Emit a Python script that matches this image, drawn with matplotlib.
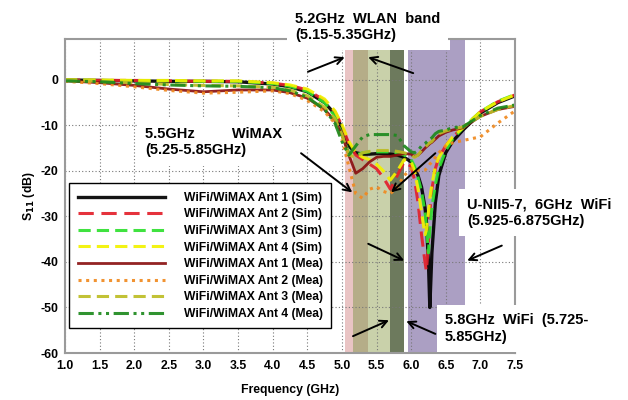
import matplotlib
matplotlib.use("Agg")
import matplotlib.pyplot as plt

plt.rcParams["font.family"] = ["Liberation Sans", "DejaVu Sans"]
plt.rcParams["font.weight"] = "bold"
plt.rcParams["axes.labelweight"] = "bold"
plt.rcParams["axes.unicode_minus"] = False

# frequency grid (GHz) shared by all traces
freq = [1.0, 1.5, 2.0, 2.5, 3.0, 3.5, 4.0, 4.25, 4.5, 4.75, 4.9, 5.0, 5.1, 5.2,
        5.3, 5.4, 5.5, 5.6, 5.7, 5.8, 5.9, 6.0, 6.05, 6.1, 6.15, 6.2, 6.22,
        6.25, 6.27, 6.3, 6.35, 6.4, 6.5, 6.6, 6.75, 7.0, 7.25, 7.5]

sim_ant1 = [0, -0.1, -0.2, -0.3, -0.3, -0.4, -0.9, -1.5, -2.6, -5.0, -7.5, -10.5,
            -14.5, -16.0, -16.3, -16.3, -16.2, -16.2, -16.3, -16.5, -17.0, -18.0,
            -19.5, -21.0, -23.5, -28.0, -31.0, -40.0, -50.0, -38.0, -27.0, -21.0,
            -16.0, -13.5, -11.0, -7.3, -5.0, -3.5]
sim_ant2 = [0, -0.1, -0.1, -0.2, -0.3, -0.3, -0.7, -1.2, -2.2, -4.5, -7.0, -10.0,
            -14.0, -16.5, -17.5, -18.5, -19.5, -21.5, -24.0, -21.0, -18.0, -19.0,
            -22.0, -27.0, -34.0, -40.0, -42.0, -36.0, -29.0, -24.0, -19.5, -17.0,
            -14.5, -12.5, -10.5, -7.0, -4.8, -3.3]
sim_ant3 = [0, -0.1, -0.2, -0.2, -0.3, -0.3, -0.8, -1.4, -2.5, -5.0, -8.0, -12.0,
            -16.0, -16.5, -16.0, -15.8, -15.8, -15.8, -15.8, -16.0, -16.5, -17.5,
            -19.0, -21.5, -24.5, -29.0, -32.0, -38.0, -33.0, -28.0, -23.0, -19.5,
            -15.5, -13.0, -10.5, -7.0, -4.7, -3.2]
sim_ant4 = [0, 0, -0.1, -0.1, -0.2, -0.2, -0.6, -1.1, -2.0, -4.2, -6.8, -9.8,
            -13.5, -16.0, -17.0, -17.5, -18.5, -20.0, -22.0, -20.0, -17.5, -18.0,
            -20.0, -24.0, -29.0, -34.0, -33.0, -29.0, -26.0, -23.0, -19.0, -17.0,
            -14.5, -12.5, -10.5, -7.0, -4.8, -3.3]
mea_ant1 = [-0.2, -0.6, -1.2, -2.0, -2.6, -2.2, -2.2, -2.8, -4.0, -6.5, -9.0, -12.0,
            -16.5, -20.5, -19.5, -18.0, -17.0, -16.8, -16.8, -16.5, -16.2, -16.3,
            -16.8, -16.5, -15.8, -15.0, -14.7, -14.3, -14.0, -13.7, -13.0, -12.3,
            -11.5, -11.0, -10.5, -8.0, -6.5, -5.8]
mea_ant2 = [-0.3, -0.8, -1.5, -2.3, -2.9, -2.7, -2.4, -3.0, -4.5, -7.0, -9.5, -13.0,
            -19.0, -25.0, -26.0, -24.0, -23.5, -24.5, -25.0, -23.5, -21.0, -19.5,
            -19.5, -19.8, -20.0, -19.8, -19.5, -19.0, -18.5, -18.0, -17.0, -16.0,
            -14.5, -13.8, -13.3, -12.5, -9.5, -6.8]
mea_ant3 = [-0.1, -0.3, -0.6, -1.0, -1.2, -1.3, -1.6, -2.2, -3.5, -6.0, -8.5, -12.0,
            -16.5, -17.0, -16.0, -15.7, -15.5, -15.5, -15.5, -15.7, -16.0, -16.5,
            -17.0, -16.5, -15.5, -14.8, -14.5, -14.0, -13.8, -13.5, -12.5, -11.8,
            -11.2, -10.8, -10.3, -8.0, -6.5, -5.6]
mea_ant4 = [-0.2, -0.4, -0.8, -1.1, -1.3, -1.4, -1.7, -2.4, -3.8, -6.5, -9.5, -13.5,
            -16.5, -14.5, -12.5, -12.0, -12.0, -12.0, -12.0, -12.2, -14.5, -15.8,
            -16.0, -15.5, -14.5, -14.0, -13.7, -13.3, -13.0, -12.7, -11.8, -11.3,
            -11.0, -10.5, -10.3, -7.8, -6.2, -5.5]

labels = ["WiFi/WiMAX Ant 1 (Sim)", "WiFi/WiMAX Ant 2 (Sim)",
          "WiFi/WiMAX Ant 3 (Sim)", "WiFi/WiMAX Ant 4 (Sim)",
          "WiFi/WiMAX Ant 1 (Mea)", "WiFi/WiMAX Ant 2 (Mea)",
          "WiFi/WiMAX Ant 3 (Mea)", "WiFi/WiMAX Ant 4 (Mea)"]

# shaded frequency bands (GHz)
band_edges = [(5.05, 5.16), (5.16, 5.37), (5.37, 5.70), (5.70, 5.90), (5.95, 6.78)]
band_colors = ["#e9c4c4", "#b5ad88", "#c9d1aa", "#6d7a5d", "#ab9fc3"]

fig = plt.figure(figsize=(6.28, 4.0), dpi=100)
ax = fig.add_axes([0.1035, 0.1175, 0.7165, 0.785])

for (lo, hi), c in zip(band_edges, band_colors):
    ax.axvspan(lo, hi, ymin=0, ymax=0.966, color=c, lw=0, zorder=1)
# purple band pokes up to the frame top near its right edge
ax.axvspan(6.56, band_edges[-1][1], ymin=0.9, ymax=1, color=band_colors[-1], lw=0, zorder=1)

styles = [
    (sim_ant1, "black", "-", 2.4),
    (sim_ant2, "#e3202b", (0, (5, 2.5)), 2.2),
    (sim_ant3, "#2fe02f", (0, (4, 2)), 2.2),
    (sim_ant4, "#f2f200", (0, (4, 2)), 2.2),
    (mea_ant1, "#8a1010", "-", 2.0),
    (mea_ant2, "#f08a20", (0, (1, 1.5)), 2.2),
    (mea_ant3, "#bdbd25", (0, (4, 2)), 2.2),
    (mea_ant4, "#1e8a1e", (0, (5, 1.5, 1, 1.5, 1, 1.5)), 2.2),
]
for (vals, c, ls, lw), lab in zip(styles, labels):
    ax.plot(freq, vals, color=c, ls=ls, lw=lw, label=lab, zorder=3, alpha=0.92)

ax.set_xlim(1.0, 7.5)
ax.set_ylim(-60, 9)
ax.set_xticks([1.0, 1.5, 2.0, 2.5, 3.0, 3.5, 4.0, 4.5, 5.0, 5.5, 6.0, 6.5, 7.0, 7.5])
ax.set_xticklabels([f"{t:.1f}" for t in ax.get_xticks()])
ax.set_yticks([-60, -50, -40, -30, -20, -10, 0])
ax.tick_params(length=0, labelsize=8.8, pad=5)
ax.grid(True, ls=(0, (1, 2)), color="#777777", lw=0.8, zorder=2)
ax.set_axisbelow(False)
for s in ax.spines.values():
    s.set_color("#9a9a9a")
    s.set_linewidth(1.5)
    s.set_zorder(4)

ax.set_xlabel("Frequency (GHz)", fontsize=8.8, labelpad=9)
ax.set_ylabel("S$_{11}$ (dB)", fontsize=8.8, labelpad=2)

leg = ax.legend(loc="lower left", bbox_to_anchor=(-0.004, 0.059), fontsize=8.7,
                handlelength=7.2, handletextpad=1.6, labelspacing=0.38,
                borderpad=0.7, fancybox=False, framealpha=1, edgecolor="black")
leg.get_frame().set_linewidth(1.0)
leg.set_zorder(6)

box = dict(facecolor="white", edgecolor="none", boxstyle="square,pad=0.55")
tkw = dict(fontsize=10.5, fontweight="bold", ha="left", va="top", zorder=7,
           bbox=box, clip_on=False, linespacing=1.2)
ax.text(4.32, 15.0, "5.2GHz  WLAN  band\n(5.15-5.35GHz)", **tkw)
ax.text(2.16, -10.4, "5.5GHz         WiMAX\n(5.25-5.85GHz)", **tkw)
ax.text(6.81, -25.8, "U-NII5-7,  6GHz  WiFi\n(5.925-6.875GHz)", **tkw)
ax.text(6.49, -51.3, "5.8GHz  WiFi  (5.725-\n5.85GHz)", **tkw)

arrow = dict(arrowstyle="->", lw=1.4, color="black", mutation_scale=13,
             shrinkA=0, shrinkB=0)
arrows = [((4.51, 1.8), (5.04, 5.0)), ((6.03, 1.5), (5.38, 5.0)),
          ((4.41, -16.1), (5.15, -24.7)), ((6.35, -16.1), (5.71, -24.7)),
          ((5.38, -36.0), (5.90, -39.7)), ((7.31, -36.4), (6.81, -39.7)),
          ((5.16, -56.3), (5.68, -52.8)), ((6.35, -55.8), (5.93, -53.0))]
for tail, head in arrows:
    ax.annotate("", xy=head, xytext=tail, arrowprops=arrow, zorder=8,
                annotation_clip=False)

fig.savefig("out.png", dpi=100)
